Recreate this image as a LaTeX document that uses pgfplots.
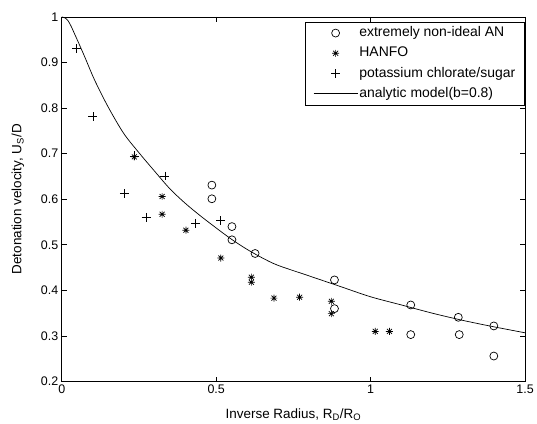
\documentclass[border=0pt]{standalone}
\usepackage{fontspec}
\setmainfont{Liberation Sans}
\usepackage{pgfplots}
\pgfplotsset{compat=1.18}

% MATLAB-style asterisk: plus and cross together
\pgfdeclareplotmark{mstar}{%
  \pgfpathmoveto{\pgfqpoint{-\pgfplotmarksize}{0pt}}%
  \pgfpathlineto{\pgfqpoint{\pgfplotmarksize}{0pt}}%
  \pgfpathmoveto{\pgfqpoint{0pt}{-\pgfplotmarksize}}%
  \pgfpathlineto{\pgfqpoint{0pt}{\pgfplotmarksize}}%
  \pgfpathmoveto{\pgfqpoint{-.7071\pgfplotmarksize}{-.7071\pgfplotmarksize}}%
  \pgfpathlineto{\pgfqpoint{.7071\pgfplotmarksize}{.7071\pgfplotmarksize}}%
  \pgfpathmoveto{\pgfqpoint{-.7071\pgfplotmarksize}{.7071\pgfplotmarksize}}%
  \pgfpathlineto{\pgfqpoint{.7071\pgfplotmarksize}{-.7071\pgfplotmarksize}}%
  \pgfusepathqstroke}

\begin{document}
\begin{tikzpicture}
\begin{axis}[
  scale only axis, width=465pt, height=366pt,
  xmin=0, xmax=1.5, ymin=0.2, ymax=1,
  xtick={0,0.5,1,1.5}, ytick={0.2,0.3,0.4,0.5,0.6,0.7,0.8,0.9,1},
  tick align=inside, major tick length=5pt,
  axis line style={line width=0.7pt}, every tick/.style={line width=0.7pt},
  /pgf/number format/assume math mode=true,
  font=\fontsize{13.5pt}{16pt}\selectfont,
  tick label style={font=\fontsize{12.5pt}{15pt}\selectfont},
  xlabel={Inverse Radius, R\textsubscript{D}/R\textsubscript{O}},
  ylabel={Detonation velocity, U\textsubscript{S}/D},
  xlabel style={at={(axis description cs:0.5,-0.101)}, anchor=base},
  ylabel style={at={(axis description cs:-0.0946,0.5)}, anchor=center},
  legend style={at={(1,1)}, anchor=north east, xshift=0pt, yshift=-4.7pt,
    draw=black, line width=0.7pt, inner xsep=8pt, inner ysep=1pt,
    row sep=0pt, column sep=0pt,
    nodes={inner xsep=1.5pt, inner ysep=3.65pt, text height=10pt, text depth=3pt,
      font=\fontsize{14pt}{16pt}\selectfont}},
  legend cell align=left,
  legend image code/.code={\draw[mark repeat=2,mark phase=2] plot coordinates {(0pt,0pt) (22pt,0pt) (44pt,0pt)};},
]
\addplot[only marks, mark=o, mark size=4pt, line width=0.7pt, black] coordinates {
  (0.486,0.631) (0.486,0.601) (0.551,0.540) (0.551,0.511) (0.626,0.481)
  (0.883,0.423) (0.883,0.360) (1.130,0.368) (1.130,0.303) (1.284,0.341)
  (1.287,0.303) (1.399,0.322) (1.399,0.256)};
\addlegendentry{extremely non-ideal AN}
\addplot[only marks, mark=mstar, mark size=3.5pt, line width=0.7pt, black] coordinates {
  (0.235,0.693) (0.325,0.606) (0.325,0.567) (0.402,0.532) (0.515,0.471)
  (0.614,0.429) (0.614,0.418) (0.687,0.383) (0.770,0.385) (0.873,0.376)
  (0.873,0.349) (1.015,0.310) (1.061,0.310)};
\addlegendentry{HANFO}
\addplot[only marks, mark=+, mark size=4.5pt, line width=0.7pt, black] coordinates {
  (0.048,0.930) (0.101,0.781) (0.235,0.695) (0.334,0.651) (0.203,0.612)
  (0.273,0.560) (0.434,0.547) (0.515,0.553)};
\addlegendentry{potassium chlorate/sugar}
\addplot[smooth, tension=0.5, line width=0.7pt, black, mark=none] coordinates {
  (0,1) (0.01,0.998) (0.02,0.992) (0.03,0.980) (0.04,0.965) (0.05,0.950)
  (0.074,0.913) (0.106,0.862) (0.149,0.804)
  (0.2,0.745) (0.25,0.702) (0.3,0.662) (0.35,0.623) (0.4,0.591) (0.45,0.563)
  (0.5,0.537) (0.55,0.512) (0.6,0.490) (0.65,0.471) (0.7,0.455) (0.8,0.432)
  (0.9,0.409) (1.0,0.386) (1.1,0.368) (1.2,0.350) (1.3,0.334) (1.4,0.320)
  (1.5,0.307)};
\addlegendentry{analytic model(b=0.8)}
\end{axis}
\path ([xshift=-62pt,yshift=-42pt]current axis.south west) rectangle ([xshift=10pt,yshift=17pt]current axis.north east);
\end{tikzpicture}
\end{document}
